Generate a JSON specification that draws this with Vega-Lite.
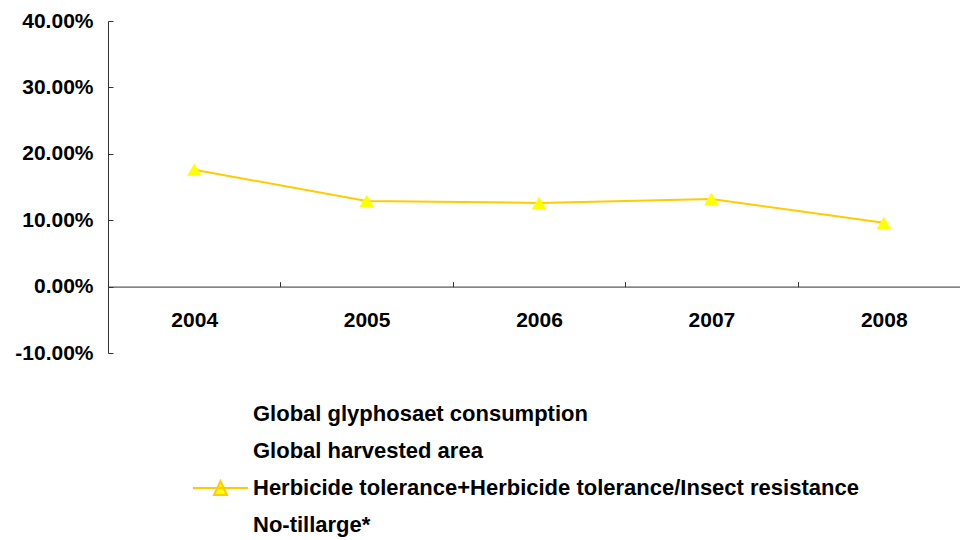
{
  "$schema": "https://vega.github.io/schema/vega-lite/v6.json",
  "width": 852,
  "height": 332,
  "autosize": {"type": "none"},
  "padding": {"left": 108, "top": 21, "right": 0, "bottom": 187},
  "background": "white",
  "config": {
    "view": {"stroke": null},
    "font": "Liberation Sans",
    "axis": {
      "labelFont": "Liberation Sans",
      "labelFontWeight": "bold",
      "labelColor": "black",
      "labelFontSize": 21,
      "domainColor": "#333333",
      "tickColor": "#333333",
      "grid": false,
      "title": null
    }
  },
  "data": {
    "values": [
      {"year": "2004", "value": 0.176, "series": "Herbicide tolerance+Herbicide tolerance/Insect resistance"},
      {"year": "2005", "value": 0.129, "series": "Herbicide tolerance+Herbicide tolerance/Insect resistance"},
      {"year": "2006", "value": 0.126, "series": "Herbicide tolerance+Herbicide tolerance/Insect resistance"},
      {"year": "2007", "value": 0.132, "series": "Herbicide tolerance+Herbicide tolerance/Insect resistance"},
      {"year": "2008", "value": 0.096, "series": "Herbicide tolerance+Herbicide tolerance/Insect resistance"}
    ]
  },
  "encoding": {
    "x": {
      "field": "year",
      "type": "ordinal",
      "scale": {"type": "band", "range": [0, 862], "paddingInner": 0, "paddingOuter": 0},
      "axis": {"labelAngle": 0, "offset": -66.4, "tickBand": "extent", "tickSize": -5, "labelPadding": 28}
    },
    "y": {
      "field": "value",
      "type": "quantitative",
      "scale": {"domain": [-0.1, 0.4], "nice": false, "zero": false},
      "axis": {
        "values": [-0.1, 0, 0.1, 0.2, 0.3, 0.4],
        "format": ".2%",
        "labelExpr": "replace(datum.label, '\u2212', '-')",
        "tickSize": -5,
        "labelPadding": 20
      }
    }
  },
  "layer": [
    {
      "mark": {"type": "line", "strokeWidth": 2},
      "encoding": {
        "color": {
          "field": "series",
          "type": "nominal",
          "scale": {
            "domain": ["Global glyphosaet consumption", "Global harvested area", "Herbicide tolerance+Herbicide tolerance/Insect resistance", "No-tillarge*"],
            "range": ["#FFFFFF", "#FFFFFF", "#FFCC00", "#FFFFFF"]
          },
          "legend": {
            "orient": "none",
            "legendX": 101.5,
            "legendY": 382,
            "title": null,
            "symbolType": "M-2.75,0H2.75M-0.65,0.7L0,-0.7L0.65,0.7Z",
            "symbolSize": 400,
            "symbolStrokeWidth": 2,
            "labelFont": "Liberation Sans",
            "labelFontSize": 22,
            "labelFontWeight": "bold",
            "labelColor": "black",
            "labelOffset": 21.5,
            "labelLimit": 900,
            "rowPadding": 15,
            "encode": {
              "symbols": {
                "update": {
                  "fill": {"signal": "datum.value === 'Herbicide tolerance+Herbicide tolerance/Insect resistance' ? '#FFFF00' : 'transparent'"}
                }
              }
            }
          }
        }
      }
    },
    {
      "mark": {"type": "point", "shape": "triangle-up", "filled": true, "color": "#FFFF00", "size": 200, "opacity": 1},
      "encoding": {"detail": {"field": "series"}}
    }
  ]
}
